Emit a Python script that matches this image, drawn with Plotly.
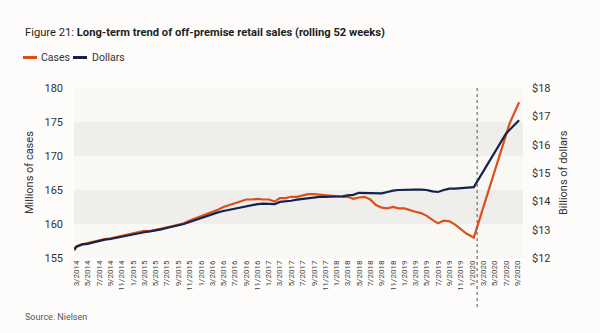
import pandas as pd
import plotly.graph_objects as go

# ---------------- data ----------------
monthly = [d.strftime("%Y-%m-%d") for d in pd.date_range("2014-03-01", "2019-12-01", freq="MS")]

cases_dates = ["2014-02-17"] + monthly + ["2020-01-10", "2020-07-21", "2020-09-10"]
cases = [156.1,
         156.6, 157.0, 157.2, 157.4, 157.6, 157.8, 157.9, 158.1, 158.2, 158.4,
         158.7, 158.9, 159.0, 158.95, 159.1, 159.3, 159.5, 159.7, 159.9, 160.1,
         160.5, 160.8, 161.1, 161.5, 161.8, 162.1, 162.5, 162.8, 163.1, 163.4,
         163.6, 163.6, 163.7, 163.6, 163.6, 163.3, 163.8, 163.8, 164.0, 164.0,
         164.2, 164.4, 164.4, 164.3, 164.2, 164.1, 164.1, 164.0, 164.0, 163.7,
         163.9, 164.0, 163.6, 162.8, 162.4, 162.3, 162.5, 162.3, 162.3, 162.0,
         161.8, 161.6, 161.2, 160.6, 160.1, 160.5, 160.4, 159.9, 159.2, 158.6,
         158.0, 174.8, 177.9]

dollars_dates = ["2014-02-17"] + monthly + ["2020-01-10", "2020-07-01", "2020-09-10"]
dollars = [12.31,
           12.41, 12.48, 12.50, 12.55, 12.60, 12.65, 12.67, 12.71, 12.74, 12.79,
           12.84, 12.89, 12.91, 12.94, 12.97, 13.01, 13.06, 13.10, 13.15, 13.20,
           13.27, 13.34, 13.42, 13.49, 13.56, 13.61, 13.66, 13.70, 13.75, 13.80,
           13.84, 13.87, 13.90, 13.92, 13.92, 13.90, 13.98, 13.99, 14.02, 14.06,
           14.09, 14.11, 14.14, 14.16, 14.16, 14.16, 14.16, 14.18, 14.21, 14.23,
           14.30, 14.30, 14.28, 14.28, 14.28, 14.33, 14.38, 14.40, 14.41, 14.41,
           14.41, 14.41, 14.40, 14.35, 14.33, 14.40, 14.45, 14.45, 14.47, 14.47,
           14.50, 16.39, 16.86]

y_ticks = [155, 160, 165, 170, 175, 180]
y2_ticks = [12, 13, 14, 15, 16, 17, 18]
y2_labels = ["$12", "$13", "$14", "$15", "$16", "$17", "$18"]
bands = [(160, 165), (170, 175)]
covid_line = "2020-01-28"

ORANGE = "#dd4f17"
NAVY = "#13234d"
FONT = "Roboto"

# ---------------- layout geometry (pixels) ----------------
W, H = 600, 333
L, R, T, B = 74, 523, 88, 258


def xp(px):
    return (px - L) / (R - L)


def yp(py):
    return (B - py) / (B - T)


fig = go.Figure()
fig.add_trace(go.Scatter(x=cases_dates, y=cases, mode="lines", name="Cases",
                         line=dict(color=ORANGE, width=2.2), yaxis="y"))
fig.add_trace(go.Scatter(x=dollars_dates, y=dollars, mode="lines", name="Dollars",
                         line=dict(color=NAVY, width=2.2), yaxis="y2"))

shapes = []
for lo, hi in bands:
    shapes.append(dict(type="rect", xref="paper", yref="y", x0=0, x1=1, y0=lo, y1=hi,
                       fillcolor="#efeeeb", line=dict(width=0), layer="below"))
shapes.append(dict(type="line", xref="x", yref="paper", x0=covid_line, x1=covid_line,
                   y0=yp(307), y1=1, line=dict(color="#555555", width=1, dash="dot")))
# legend swatches
shapes.append(dict(type="line", xref="paper", yref="paper", x0=xp(23), x1=xp(37),
                   y0=yp(57.5), y1=yp(57.5), line=dict(color=ORANGE, width=3)))
shapes.append(dict(type="line", xref="paper", yref="paper", x0=xp(73), x1=xp(87),
                   y0=yp(57.5), y1=yp(57.5), line=dict(color=NAVY, width=3)))

annotations = [
    dict(xref="paper", yref="paper", x=xp(23), y=yp(32), xanchor="left", yanchor="middle",
         text="Figure 21: <b>Long-term trend of off-premise retail sales (rolling 52 weeks)</b>",
         showarrow=False, font=dict(family=FONT, size=11.2, color="#1e1e1e")),
    dict(xref="paper", yref="paper", x=xp(39), y=yp(57), xanchor="left", yanchor="middle",
         text="Cases", showarrow=False, font=dict(family=FONT, size=10.5, color="#333333")),
    dict(xref="paper", yref="paper", x=xp(90), y=yp(57), xanchor="left", yanchor="middle",
         text="Dollars", showarrow=False, font=dict(family=FONT, size=10.5, color="#333333")),
    dict(xref="paper", yref="paper", x=xp(23), y=yp(317), xanchor="left", yanchor="middle",
         text="Source: Nielsen", showarrow=False, font=dict(family=FONT, size=9, color="#555555")),
    dict(xref="paper", yref="paper", x=xp(29), y=yp(173), xanchor="center", yanchor="middle",
         text="Millions of cases", textangle=-90, showarrow=False,
         font=dict(family=FONT, size=11, color="#333333")),
    dict(xref="paper", yref="paper", x=xp(563), y=yp(173), xanchor="center", yanchor="middle",
         text="Billions of dollars", textangle=-90, showarrow=False,
         font=dict(family=FONT, size=11, color="#333333")),
]

fig.update_layout(
    width=W, height=H,
    margin=dict(l=L, r=W - R, t=T, b=H - B, pad=0),
    paper_bgcolor="#fdfcfa",
    plot_bgcolor="#f9f8f5",
    showlegend=False,
    shapes=shapes,
    annotations=annotations,
    font=dict(family=FONT, color="#333333"),
    xaxis=dict(type="date", range=["2014-02-16", "2020-10-01"],
               tick0="2014-03-01", dtick="M2", tickformat="%-m/%Y", tickangle=-90,
               showgrid=False, zeroline=False, showline=False, ticks="",
               tickfont=dict(family=FONT, size=8, color="#444444")),
    yaxis=dict(range=[155, 180], tickvals=y_ticks, showgrid=False, zeroline=False,
               showline=False, ticks="", ticklabelstandoff=10,
               tickfont=dict(family=FONT, size=11, color="#333333")),
    yaxis2=dict(range=[12, 18], tickvals=y2_ticks, ticktext=y2_labels, overlaying="y",
                side="right", showgrid=False, zeroline=False, showline=False, ticks="",
                ticklabelstandoff=8,
                tickfont=dict(family=FONT, size=11, color="#333333")),
)

fig.write_html("out.html")
